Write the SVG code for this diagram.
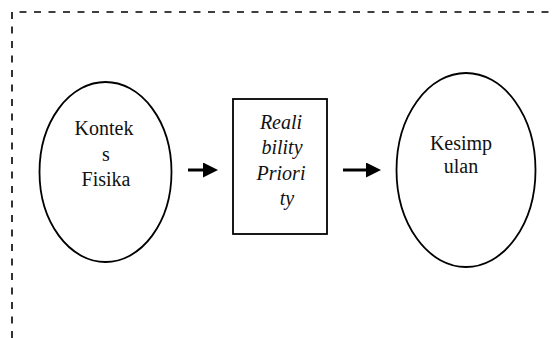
<svg xmlns="http://www.w3.org/2000/svg" width="552" height="338" viewBox="0 0 552 338">
  <style>
    .frame { fill: none; stroke: #000; stroke-width: 1.6; stroke-dasharray: 7 7.5; }
    .shape { fill: #fff; stroke: #000; stroke-width: 1.8; }
    .label { font-size: 20px; fill: #111; text-anchor: middle; }
    .italic { font-style: italic; }
    .link { stroke: #000; stroke-width: 3; fill: none; }
  </style>
  <defs>
    <marker id="head" viewBox="0 0 10 10" refX="0" refY="5" markerWidth="5.2" markerHeight="5" markerUnits="strokeWidth" orient="auto">
      <path d="M0,0 L10,5 L0,10 Z" fill="#000"/>
    </marker>
  </defs>

  <rect width="552" height="338" fill="#fff"/>

  <!-- dashed outer frame, open to the right and bottom edges -->
  <path class="frame" d="M12,338 V12 H552"/>

  <g font-family="Liberation Serif, Times New Roman, Tinos, Noto Serif, DejaVu Serif, serif">
    <g id="kontek-fisika">
      <ellipse class="shape" cx="105.5" cy="172" rx="66" ry="90"/>
      <text class="label" x="104" y="135">Kontek</text>
      <text class="label" x="106" y="160.5">s</text>
      <text class="label" x="106" y="186">Fisika</text>
    </g>

    <g id="reliability-priority">
      <rect class="shape" x="233" y="99" width="94" height="135"/>
      <text class="label italic" x="281" y="129">Reali</text>
      <text class="label italic" x="282" y="154">bility</text>
      <text class="label italic" x="281" y="179.5">Priori</text>
      <text class="label italic" x="287" y="204.5">ty</text>
    </g>

    <g id="kesimpulan">
      <ellipse class="shape" cx="466" cy="170" rx="69.5" ry="97"/>
      <text class="label" x="461" y="150">Kesimp</text>
      <text class="label" x="461" y="173">ulan</text>
    </g>
  </g>

  <g id="connectors">
    <line class="link" x1="188" y1="170" x2="203" y2="170" marker-end="url(#head)"/>
    <line class="link" x1="343" y1="170" x2="366" y2="170" marker-end="url(#head)"/>
  </g>
</svg>
